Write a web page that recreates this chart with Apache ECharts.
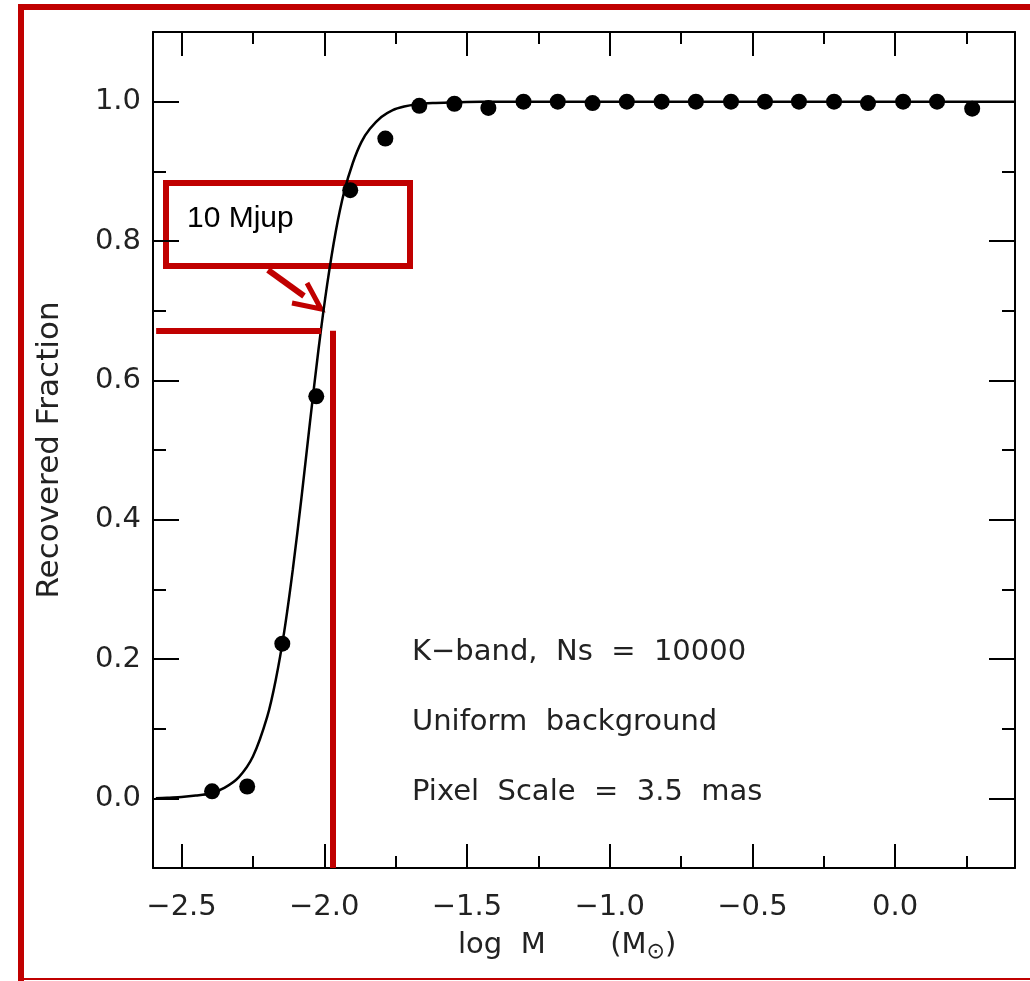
<!DOCTYPE html>
<html><head><meta charset="utf-8">
<script src="https://cdn.jsdelivr.net/npm/echarts@6/dist/echarts.min.js"></script>
<style>html,body{margin:0;padding:0;background:#fff}#c{width:1030px;height:981px}</style>
</head><body><div id="c"></div>
<script>
// Measured points (log M, recovered fraction)
const massLog = [-2.393,-2.270,-2.147,-2.028,-1.909,-1.786,-1.667,-1.544,-1.425,-1.302,-1.182,-1.060,-0.940,-0.818,-0.698,-0.575,-0.456,-0.337,-0.214,-0.095,0.028,0.147,0.270];
const recovered = [0.010,0.017,0.222,0.577,0.873,0.947,0.994,0.997,0.991,1.000,1.000,0.998,1.000,1.000,1.000,1.000,1.000,1.000,1.000,0.998,1.000,1.000,0.990];
// Fitted curve
const fitX = [-2.59,-2.55,-2.50,-2.45,-2.40,-2.35,-2.30,-2.25,-2.20,-2.17,-2.14,-2.11,-2.08,-2.05,-2.02,-1.99,-1.96,-1.93,-1.90,-1.87,-1.84,-1.80,-1.76,-1.72,-1.68,-1.62,-1.55,-1.45,-1.30,-1.00,-0.50,0.00,0.42];
const fitY = [0.000,0.001,0.002,0.004,0.007,0.015,0.030,0.060,0.117,0.170,0.240,0.329,0.431,0.540,0.645,0.737,0.813,0.871,0.912,0.942,0.961,0.978,0.988,0.993,0.996,0.998,0.999,1.000,1.000,1.000,1.000,1.000,1.000];
const xMajorTicks = [-2.5,-2.0,-1.5,-1.0,-0.5,0.0];
const xMinorTicks = [-2.25,-1.75,-1.25,-0.75,-0.25,0.25];
const yMajorTicks = [0.0,0.2,0.4,0.6,0.8,1.0];
const yMinorTicks = [0.1,0.3,0.5,0.7,0.9];
const infoLines = ['K\u2212band,  Ns  =  10000','Uniform  background','Pixel  Scale  =  3.5  mas'];
const calloutText = '10 Mjup';
// Red guide lines (data coords)
const guideY = 0.671, guideXStart = -2.589, guideXEnd = -2.011, guideVX = -1.972;

const RED = '#c00000';
const FONT = 'DejaVu Sans';
const fmt = v => (v < 0 ? '\u2212' : '') + Math.abs(v).toFixed(1);

function xAx(pos, ticks, len, labels, line) {
  return {
    type: 'value', position: pos, min: -2.6, max: 0.42,
    axisLine: { show: line, onZero: false, lineStyle: { color: '#000', width: 2 } },
    axisTick: { show: true, inside: true, length: len, customValues: ticks, lineStyle: { color: '#000', width: 2 } },
    axisLabel: labels ? { show: true, customValues: ticks, formatter: fmt, margin: 25, fontFamily: FONT, fontSize: 29, color: '#222' } : { show: false },
    splitLine: { show: false }
  };
}
function yAx(pos, ticks, len, labels, line, name) {
  const o = {
    type: 'value', position: pos, min: -0.1, max: 1.1,
    axisLine: { show: line, onZero: false, lineStyle: { color: '#000', width: 2 } },
    axisTick: { show: true, inside: true, length: len, customValues: ticks, lineStyle: { color: '#000', width: 2 } },
    axisLabel: labels ? { show: true, customValues: ticks, formatter: fmt, margin: 12, fontFamily: FONT, fontSize: 29, color: '#222' } : { show: false },
    splitLine: { show: false }
  };
  if (name) {
    o.name = name; o.nameLocation = 'middle'; o.nameGap = 88; o.nameRotate = 90;
    o.nameTextStyle = { fontFamily: FONT, fontSize: 31, color: '#222' };
  }
  return o;
}

const chart = echarts.init(document.getElementById('c'), null, { renderer: 'canvas' });
chart.setOption({
  animation: false,
  backgroundColor: '#fff',
  grid: { left: 153, right: 15, top: 32, bottom: 113, containLabel: false },
  xAxis: [
    xAx('bottom', xMajorTicks, 24, true, true),
    xAx('bottom', xMinorTicks, 12, false, false),
    xAx('top', xMajorTicks, 24, false, true),
    xAx('top', xMinorTicks, 12, false, false)
  ],
  yAxis: [
    yAx('left', yMajorTicks, 26, true, true, 'Recovered Fraction'),
    yAx('left', yMinorTicks, 13, false, false),
    yAx('right', yMajorTicks, 26, false, true),
    yAx('right', yMinorTicks, 13, false, false)
  ],
  series: [
    {
      type: 'line', xAxisIndex: 0, yAxisIndex: 0, smooth: 0.3, showSymbol: false, symbol: 'none',
      data: fitX.map((x, i) => [x, fitY[i]]),
      lineStyle: { color: '#000', width: 2.5 }, z: 3,
      markLine: {
        silent: true, symbol: ['none', 'none'], label: { show: false },
        lineStyle: { color: RED, width: 6, type: 'solid' },
        data: [
          [{ coord: [guideXStart, guideY] }, { coord: [guideXEnd, guideY] }],
          [{ coord: [guideVX, -0.1] }, { coord: [guideVX, guideY] }]
        ]
      }
    },
    {
      type: 'scatter', xAxisIndex: 0, yAxisIndex: 0, symbol: 'circle', symbolSize: 16,
      data: massLog.map((x, i) => [x, recovered[i]]),
      itemStyle: { color: '#000', opacity: 1 }, z: 4
    }
  ],
  graphic: [
    // outer red frame
    { type: 'rect', shape: { x: 18, y: 4, width: 1012, height: 6 }, style: { fill: RED }, z: 10 },
    { type: 'rect', shape: { x: 18, y: 4, width: 6, height: 977 }, style: { fill: RED }, z: 10 },
    { type: 'rect', shape: { x: 18, y: 978, width: 1012, height: 2 }, style: { fill: RED }, z: 10 },
    // callout box
    { type: 'rect', shape: { x: 166, y: 183, width: 244, height: 83 }, style: { fill: 'rgba(0,0,0,0)', stroke: RED, lineWidth: 6 }, z: 0 },
    { type: 'text', x: 187, y: 219, style: { text: calloutText, fontFamily: 'Liberation Sans', fontSize: 30, fill: '#000', textVerticalAlign: 'middle' }, z: 0 },
    { type: 'polyline', shape: { points: [[268, 270], [304, 296]] }, style: { stroke: RED, lineWidth: 6, fill: null }, z: 0 },
    { type: 'polyline', shape: { points: [[307, 283], [321, 309], [292, 303]] }, style: { stroke: RED, lineWidth: 5, fill: null }, z: 0 },
    // info text
    { type: 'text', x: 412, y: 652, style: { text: infoLines[0], fontFamily: FONT, fontSize: 29, fill: '#222', textVerticalAlign: 'middle' } },
    { type: 'text', x: 412, y: 722, style: { text: infoLines[1], fontFamily: FONT, fontSize: 29, fill: '#222', textVerticalAlign: 'middle' } },
    { type: 'text', x: 412, y: 792, style: { text: infoLines[2], fontFamily: FONT, fontSize: 29, fill: '#222', textVerticalAlign: 'middle' } },
    // x-axis title
    { type: 'text', x: 458, y: 945, style: {
        text: '{a|log  M       (M}{s|\u2299}{a|)}',
        rich: { a: { fontFamily: FONT, fontSize: 29, fill: '#222', lineHeight: 40, verticalAlign: 'middle' },
                s: { fontFamily: FONT, fontSize: 22, fill: '#222', lineHeight: 40, verticalAlign: 'bottom', padding: [0, 0, 2, 0] } },
        textVerticalAlign: 'middle' } }
  ]
});
</script></body></html>
